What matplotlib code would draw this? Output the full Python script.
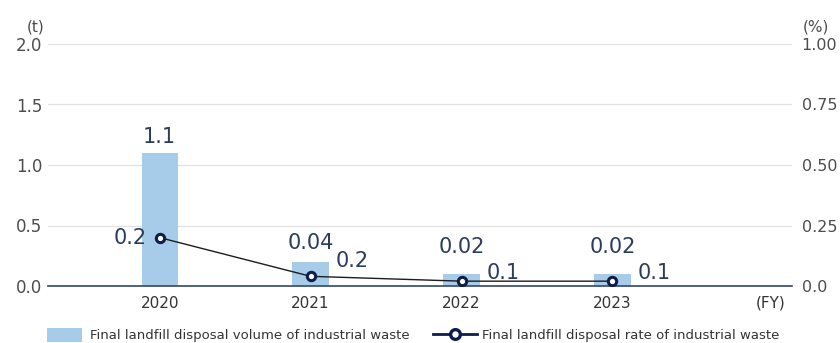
import matplotlib.pyplot as plt
from matplotlib.lines import Line2D
from matplotlib.patches import Patch

# Final landfill disposal of industrial waste by fiscal year
years = ["2020", "2021", "2022", "2023"]
volume_t = [1.1, 0.2, 0.1, 0.1]
rate_pct = [0.2, 0.04, 0.02, 0.02]

left_ticks = [0.0, 0.5, 1.0, 1.5, 2.0]
right_ticks = [0.0, 0.25, 0.50, 0.75, 1.00]
right_labels = ["0.0", "0.25", "0.50", "0.75", "1.00"]

bar_color = "#a6cce9"
text_color = "#2c3d5c"
tick_color = "#4d4d4d"
navy = "#0f1d4a"

plt.rcParams["font.family"] = ["DejaVu Sans"]

fig = plt.figure(figsize=(8.4, 3.43), dpi=100)
ax = fig.add_axes([48 / 840, 1 - 286 / 343, 744 / 840, 242 / 343])
ax2 = ax.twinx()

x = list(range(len(years)))
ax.bar(x, volume_t, width=0.24, color=bar_color, zorder=2)
ax.set_ylim(0, 2.0)
ax.set_xlim(-0.74, 4.19)
ax.set_yticks(left_ticks)
ax.set_yticklabels([f"{v:.1f}" for v in left_ticks])
ax.set_xticks(x)
ax.set_xticklabels(years)
ax.grid(axis="y", color="#e2e2e2", linewidth=0.9, zorder=0)
ax.set_axisbelow(True)

for s in ["top", "right", "left"]:
    ax.spines[s].set_visible(False)
    ax2.spines[s].set_visible(False)
ax.spines["bottom"].set_color("#34466b")
ax.spines["bottom"].set_linewidth(1.2)
ax2.spines["bottom"].set_visible(False)

ax.tick_params(axis="y", length=0, pad=4, labelsize=12, labelcolor=tick_color)
ax.tick_params(axis="x", length=0, pad=7, labelsize=11, labelcolor="#333333")

ax2.plot(x, rate_pct, color="#1c1c1c", linewidth=1.0, marker="o",
         markersize=6, markerfacecolor="white", markeredgecolor=navy,
         markeredgewidth=2.2, zorder=5)
ax2.set_ylim(0, 1.0)
ax2.set_yticks(right_ticks)
ax2.set_yticklabels(right_labels)
ax2.tick_params(axis="y", length=0, pad=7, labelsize=11.5, labelcolor=tick_color)

# value labels: bar volume and disposal rate
ax.annotate(f"{volume_t[0]}", (x[0], volume_t[0]), xytext=(0, 7),
            textcoords="offset points", ha="center", va="baseline",
            fontsize=15, color=text_color)
for i in range(1, len(years)):
    ax.annotate(f"{volume_t[i]}", (x[i], volume_t[i]), xytext=(18, -4),
                textcoords="offset points", ha="left", va="baseline",
                fontsize=15, color=text_color)

ax2.annotate(f"{rate_pct[0]}", (x[0], rate_pct[0]), xytext=(-9, 0),
             textcoords="offset points", ha="right", va="center",
             fontsize=15, color=text_color)
for i in range(1, len(years)):
    ax2.annotate(f"{rate_pct[i]}", (x[i], rate_pct[i]), xytext=(0, 20),
                 textcoords="offset points", ha="center", va="baseline",
                 fontsize=15, color=text_color)

fig.text(36 / 840, 1 - 27 / 343, "(t)", ha="center", va="center", fontsize=11, color=tick_color)
fig.text(816 / 840, 1 - 27 / 343, "(%)", ha="center", va="center", fontsize=11, color=tick_color)
fig.text(771 / 840, 1 - 303 / 343, "(FY)", ha="center", va="center", fontsize=11, color="#333333")

# legend: two entries placed side by side under the axis
legend_y = 1 - 335 / 343
bar_handle = Patch(facecolor=bar_color, edgecolor="none")
line_handle = Line2D([0], [0], color=navy, linewidth=2, marker="o", markersize=7,
                     markerfacecolor="white", markeredgecolor=navy, markeredgewidth=2.4)
leg1 = fig.legend([bar_handle], ["Final landfill disposal volume of industrial waste"],
                  loc="center left", bbox_to_anchor=(47 / 840, legend_y),
                  frameon=False, fontsize=9.5, handlelength=2.65, handleheight=1.3,
                  handletextpad=0.6, borderpad=0, borderaxespad=0,
                  labelcolor="#333333")
leg2 = fig.legend([line_handle], ["Final landfill disposal rate of industrial waste"],
                  loc="center left", bbox_to_anchor=(433 / 840, legend_y),
                  frameon=False, fontsize=9.5, handlelength=3.3, handleheight=1.3,
                  handletextpad=0.45, borderpad=0, borderaxespad=0,
                  labelcolor="#333333")

fig.savefig("out.png", dpi=100)
